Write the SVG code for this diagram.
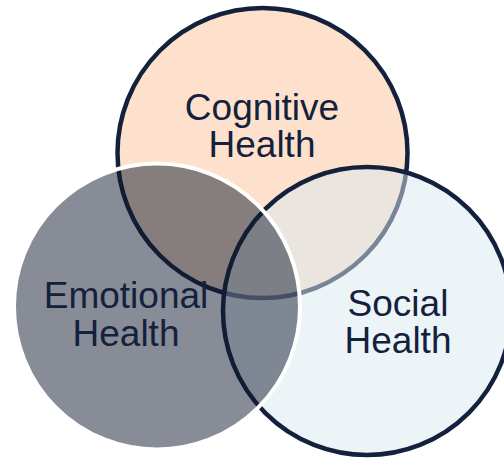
<svg xmlns="http://www.w3.org/2000/svg" width="504" height="458" viewBox="0 0 504 458">
  <style>
    .label { font-family: "Liberation Sans", Arial, sans-serif; font-size: 37px; fill: #14213d; text-anchor: middle; }
    .dark-ring { stroke: #14213d; stroke-width: 4.5; }
  </style>
  <rect width="504" height="458" fill="#ffffff"/>

  <!-- Cognitive: bottom layer, solid peach -->
  <g id="cognitive">
    <circle class="dark-ring" cx="262.5" cy="153" r="145" fill="#fde1cc"/>
    <text class="label" x="262" y="120">Cognitive</text>
    <text class="label" x="262" y="157">Health</text>
  </g>

  <!-- Social: translucent pale blue over cognitive -->
  <g id="social">
    <circle class="dark-ring" cx="367" cy="311" r="144" fill="#d9e9f1" fill-opacity="0.5"/>
    <text class="label" x="398" y="316">Social</text>
    <text class="label" x="398" y="353">Health</text>
  </g>

  <!-- Emotional: translucent slate on top, white outline -->
  <g id="emotional">
    <circle cx="157" cy="306.5" r="143" fill="#0f1a2d" fill-opacity="0.5" stroke="#ffffff" stroke-width="4"/>
    <text class="label" x="126" y="308">Emotional</text>
    <text class="label" x="126" y="346">Health</text>
  </g>

  <g id="connectors"/>
</svg>
